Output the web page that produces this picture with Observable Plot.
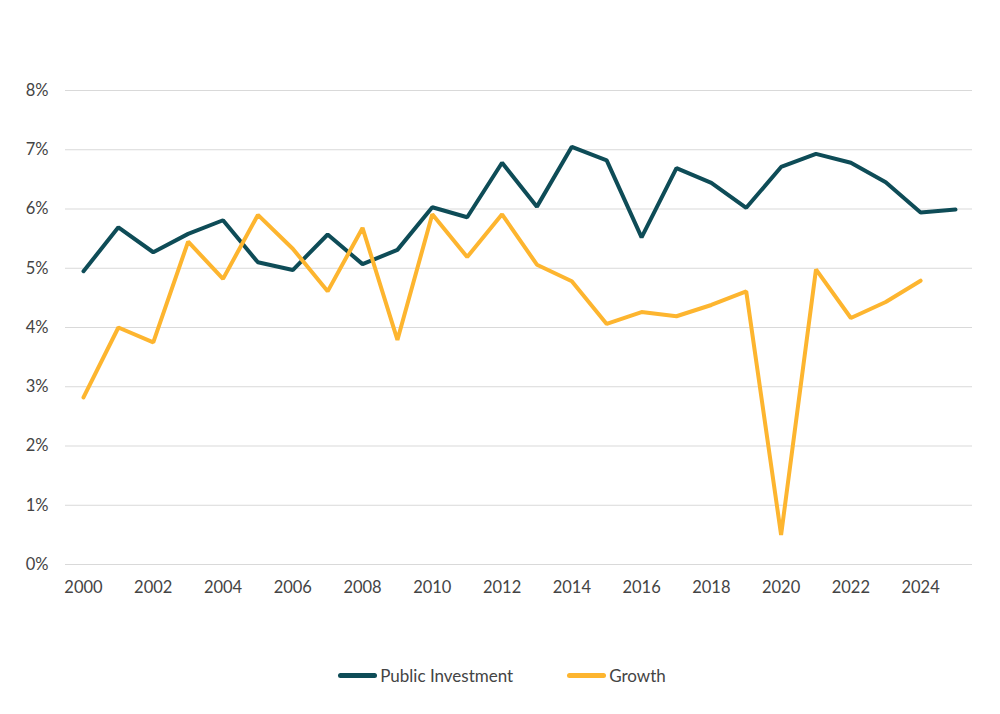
<!DOCTYPE html>
<html>
<head>
<meta charset="utf-8">
<script src="https://cdn.jsdelivr.net/npm/d3@7"></script>
<script src="https://cdn.jsdelivr.net/npm/@observablehq/plot@0.6"></script>
<style>
  html, body { margin: 0; padding: 0; background: #fff; }
  body { width: 1000px; height: 714px; overflow: hidden; font-family: Lato, "Noto Sans", sans-serif; }
  #legend { display: flex; justify-content: center; align-items: center; gap: 54px; margin-top: 45px; margin-left: 4px; font-size: 17px; color: #444; }
  .item { display: flex; align-items: center; gap: 3px; }
  .sw { width: 39px; height: 5px; border-radius: 2.5px; }
</style>
</head>
<body>
<div id="chart"></div>
<div id="legend"></div>
<script>
const years = [2000,2001,2002,2003,2004,2005,2006,2007,2008,2009,2010,2011,2012,2013,2014,2015,2016,2017,2018,2019,2020,2021,2022,2023,2024,2025];
const publicInvestment = [4.95,5.69,5.27,5.58,5.81,5.10,4.97,5.57,5.07,5.31,6.03,5.86,6.78,6.04,7.05,6.82,5.52,6.69,6.44,6.02,6.71,6.93,6.78,6.45,5.94,5.99];
const growthYears = years.slice(0, 25);
const growth = [2.82,4.00,3.75,5.45,4.82,5.90,5.33,4.61,5.68,3.79,5.91,5.19,5.91,5.06,4.78,4.06,4.26,4.19,4.38,4.61,0.50,4.98,4.16,4.43,4.79];
const yTicks = [0,1,2,3,4,5,6,7,8];
const xTicks = [2000,2002,2004,2006,2008,2010,2012,2014,2016,2018,2020,2022,2024];

const series = [
  {name: "Public Investment", color: "#0e4c57"},
  {name: "Growth", color: "#fdb52f"}
];

const piData = years.map((y, i) => ({year: y, value: publicInvestment[i]}));
const grData = growthYears.map((y, i) => ({year: y, value: growth[i]}));

const chart = Plot.plot({
  width: 1000,
  height: 620,
  marginTop: 90,
  marginBottom: 56,
  marginLeft: 65,
  marginRight: 28,
  style: {fontFamily: "Lato, 'Noto Sans', sans-serif", fontSize: "16.5px", color: "#444"},
  x: {domain: [2000, 2025], insetLeft: 18, insetRight: 17, ticks: xTicks, tickFormat: d => String(d), tickSize: 0, tickPadding: 17, label: null},
  y: {domain: [0, 8], ticks: yTicks, tickFormat: d => d + "%", tickSize: 0, tickPadding: 17, label: null},
  marks: [
    Plot.gridY(yTicks, {stroke: "#d9d9d9", strokeOpacity: 1, strokeWidth: 1.2}),
    Plot.line(piData, {x: "year", y: "value", stroke: series[0].color, strokeWidth: 4, strokeLinejoin: "miter", strokeLinecap: "round"}),
    Plot.line(grData, {x: "year", y: "value", stroke: series[1].color, strokeWidth: 4, strokeLinejoin: "miter", strokeLinecap: "round"})
  ]
});
document.getElementById("chart").appendChild(chart);

const legend = document.getElementById("legend");
series.forEach(s => {
  const it = document.createElement("div");
  it.className = "item";
  const sw = document.createElement("span");
  sw.className = "sw";
  sw.style.background = s.color;
  const t = document.createElement("span");
  t.textContent = s.name;
  it.appendChild(sw); it.appendChild(t);
  legend.appendChild(it);
});
</script>
</body>
</html>
